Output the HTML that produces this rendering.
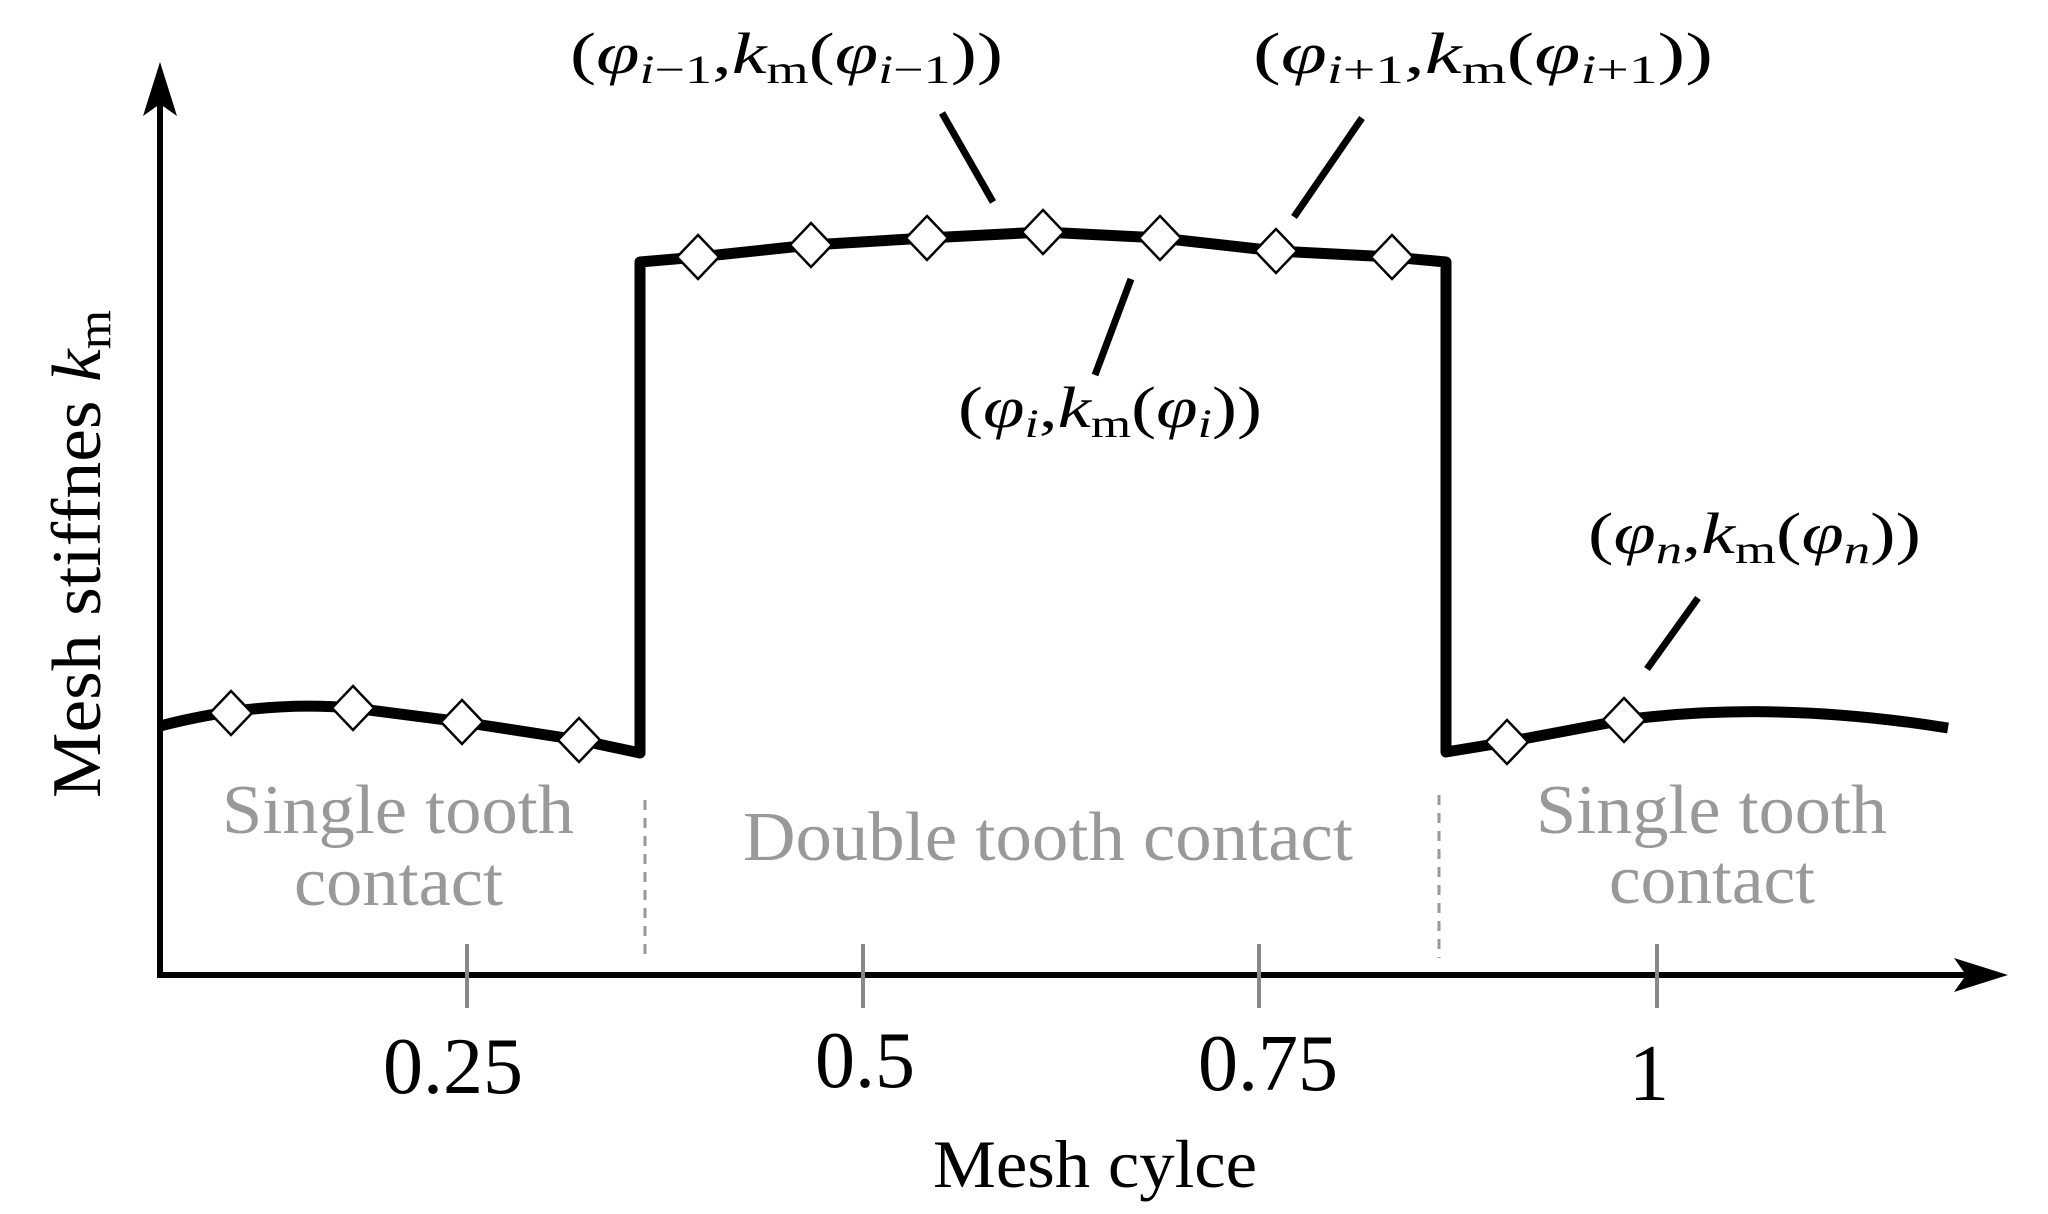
<!DOCTYPE html>
<html><head><meta charset="utf-8"><style>
html,body{margin:0;padding:0;background:#fff;}
svg{display:block;}
text{font-family:"Liberation Serif",serif;}
</style></head><body>
<svg width="2048" height="1214" viewBox="0 0 2048 1214" xmlns="http://www.w3.org/2000/svg">
<!-- axes -->
<line x1="160" y1="975" x2="160" y2="100" stroke="#000" stroke-width="6"/>
<path d="M160,62 L177,116 L160,104 L143,116 Z" fill="#000"/>
<line x1="157" y1="975" x2="1970" y2="975" stroke="#000" stroke-width="6"/>
<path d="M2008,975 L1954,958 L1966,975 L1954,992 Z" fill="#000"/>
<!-- ticks -->
<g stroke="#888" stroke-width="4">
<line x1="467" y1="944" x2="467" y2="1008"/>
<line x1="863" y1="944" x2="863" y2="1008"/>
<line x1="1259" y1="944" x2="1259" y2="1008"/>
<line x1="1657" y1="944" x2="1657" y2="1008"/>
</g>
<!-- dashed separators -->
<g stroke="#999" stroke-width="3" stroke-dasharray="10,8">
<line x1="645" y1="800" x2="645" y2="962"/>
<line x1="1439" y1="795" x2="1439" y2="958"/>
</g>
<!-- curve -->
<g fill="none" stroke="#000" stroke-width="11" stroke-linejoin="round">
<path d="M160,726 Q260,700 353,708 L462,722 L579,740 L640,753 L640,262 L698,257 L811,245 L927,238 L1043,232 L1160,238 L1276,251 L1392,257 L1446,262 L1446,752 L1507,742 L1624,720 Q1774,700 1948,728"/>
</g>
<!-- diamonds -->
<g fill="#fff" stroke="#000" stroke-width="2.5">
<path d="M231,691 l21,22 l-21,22 l-21,-22 Z"/>
<path d="M353,686 l21,22 l-21,22 l-21,-22 Z"/>
<path d="M462,700 l21,22 l-21,22 l-21,-22 Z"/>
<path d="M579,718 l21,22 l-21,22 l-21,-22 Z"/>
<path d="M698,235 l21,22 l-21,22 l-21,-22 Z"/>
<path d="M811,223 l21,22 l-21,22 l-21,-22 Z"/>
<path d="M927,216 l21,22 l-21,22 l-21,-22 Z"/>
<path d="M1043,210 l21,22 l-21,22 l-21,-22 Z"/>
<path d="M1160,216 l21,22 l-21,22 l-21,-22 Z"/>
<path d="M1276,229 l21,22 l-21,22 l-21,-22 Z"/>
<path d="M1392,235 l21,22 l-21,22 l-21,-22 Z"/>
<path d="M1507,720 l21,22 l-21,22 l-21,-22 Z"/>
<path d="M1624,698 l21,22 l-21,22 l-21,-22 Z"/>
</g>
<!-- leaders -->
<g stroke="#000" stroke-width="7">
<line x1="942" y1="113" x2="993" y2="202"/>
<line x1="1362" y1="118" x2="1294" y2="217"/>
<line x1="1131" y1="279" x2="1095" y2="375"/>
<line x1="1698" y1="598" x2="1647" y2="669"/>
</g>
<!-- labels -->
<g font-size="58" fill="#000">
<text x="570" y="73" textLength="433" lengthAdjust="spacingAndGlyphs">(<tspan font-style="italic">φ</tspan><tspan font-style="italic" font-size="40" dy="10">i</tspan><tspan font-size="40">−1</tspan><tspan dy="-10">,</tspan><tspan font-style="italic">k</tspan><tspan font-size="40" dy="10">m</tspan><tspan dy="-10">(</tspan><tspan font-style="italic">φ</tspan><tspan font-style="italic" font-size="40" dy="10">i</tspan><tspan font-size="40">−1</tspan><tspan dy="-10">))</tspan></text>
<text x="1253" y="73" textLength="460" lengthAdjust="spacingAndGlyphs">(<tspan font-style="italic">φ</tspan><tspan font-style="italic" font-size="40" dy="10">i</tspan><tspan font-size="40">+1</tspan><tspan dy="-10">,</tspan><tspan font-style="italic">k</tspan><tspan font-size="40" dy="10">m</tspan><tspan dy="-10">(</tspan><tspan font-style="italic">φ</tspan><tspan font-style="italic" font-size="40" dy="10">i</tspan><tspan font-size="40">+1</tspan><tspan dy="-10">))</tspan></text>
<text x="958" y="427" textLength="304" lengthAdjust="spacingAndGlyphs">(<tspan font-style="italic">φ</tspan><tspan font-style="italic" font-size="40" dy="10">i</tspan><tspan dy="-10">,</tspan><tspan font-style="italic">k</tspan><tspan font-size="40" dy="10">m</tspan><tspan dy="-10">(</tspan><tspan font-style="italic">φ</tspan><tspan font-style="italic" font-size="40" dy="10">i</tspan><tspan dy="-10">))</tspan></text>
<text x="1588" y="553" textLength="333" lengthAdjust="spacingAndGlyphs">(<tspan font-style="italic">φ</tspan><tspan font-style="italic" font-size="40" dy="10">n</tspan><tspan dy="-10">,</tspan><tspan font-style="italic">k</tspan><tspan font-size="40" dy="10">m</tspan><tspan dy="-10">(</tspan><tspan font-style="italic">φ</tspan><tspan font-style="italic" font-size="40" dy="10">n</tspan><tspan dy="-10">))</tspan></text>
</g>
<!-- region labels -->
<g font-size="70" fill="#999">
<text x="222" y="833" textLength="352" lengthAdjust="spacingAndGlyphs">Single tooth</text>
<text x="294" y="905" textLength="209" lengthAdjust="spacingAndGlyphs">contact</text>
<text x="743" y="860" textLength="610" lengthAdjust="spacingAndGlyphs">Double tooth contact</text>
<text x="1536" y="833" textLength="351" lengthAdjust="spacingAndGlyphs">Single tooth</text>
<text x="1609" y="903" textLength="206" lengthAdjust="spacingAndGlyphs">contact</text>
</g>
<!-- tick labels -->
<g font-size="80" fill="#000" text-anchor="middle">
<text x="453" y="1093">0.25</text>
<text x="865" y="1087">0.5</text>
<text x="1268" y="1090">0.75</text>
<text x="1649" y="1100">1</text>
</g>
<text x="933" y="1187" font-size="68" textLength="324" lengthAdjust="spacingAndGlyphs">Mesh cylce</text>
<text transform="translate(100,798) rotate(-90)" font-size="70" textLength="488" lengthAdjust="spacingAndGlyphs">Mesh stiffnes <tspan font-style="italic">k</tspan><tspan font-size="48" dy="10">m</tspan></text>
</svg>
</body></html>
